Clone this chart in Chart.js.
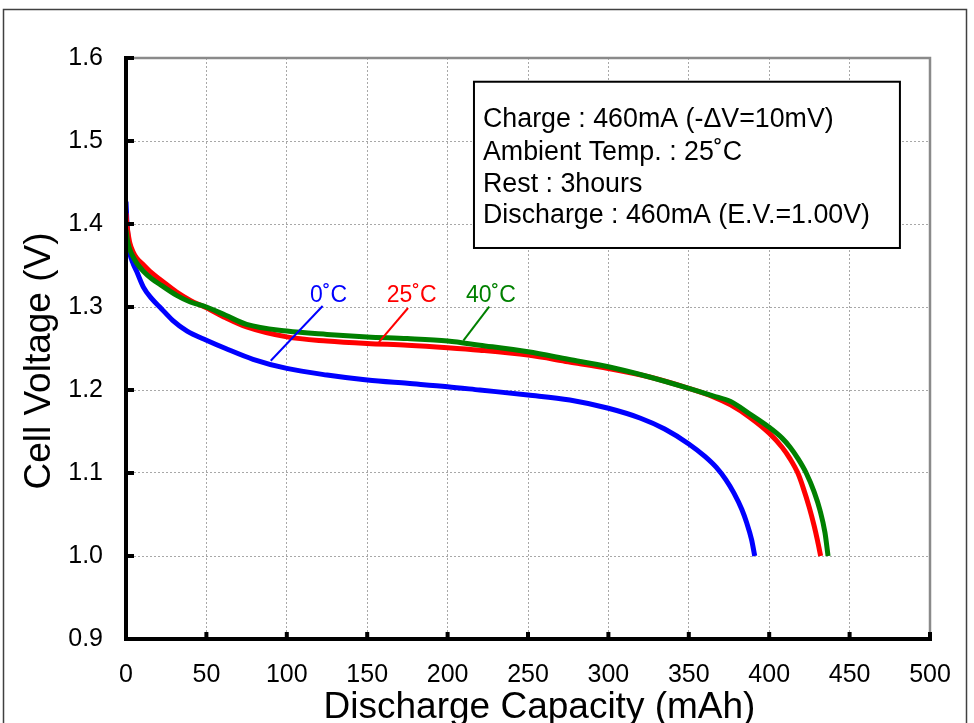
<!DOCTYPE html>
<html>
<head>
<meta charset="utf-8">
<script src="https://cdn.jsdelivr.net/npm/chart.js@4.4.1/dist/chart.umd.min.js"></script>
<style>
  html, body { margin: 0; padding: 0; background: #fff; }
  canvas { display: block; }
</style>
</head>
<body>
<canvas id="dischargeChart" width="974" height="723"></canvas>
<script>
// discharge capacity (mAh) and cell voltage (V)
const cap0 = [0, 0.5, 1.2, 2.4, 4.5, 6.6, 10.8, 16, 22, 29, 38, 50, 62, 79, 100, 125, 150, 175, 200, 220, 250, 276, 300, 320, 335, 350, 360, 367, 373, 378, 383, 386, 389, 391];
const volt0 = [1.427, 1.405, 1.385, 1.365, 1.352, 1.343, 1.324, 1.310, 1.298, 1.284, 1.271, 1.260, 1.250, 1.237, 1.226, 1.218, 1.212, 1.208, 1.204, 1.200, 1.194, 1.188, 1.178, 1.166, 1.153, 1.135, 1.120, 1.107, 1.092, 1.076, 1.056, 1.040, 1.020, 1.000];

const cap25 = [0, 0.5, 1.2, 2.4, 4.5, 6.6, 10.8, 16, 22, 31.5, 40, 50, 62, 75, 100, 125, 150, 175, 200, 220, 250, 275, 300, 325, 350, 365, 376, 388, 400, 408, 413, 418, 421, 425, 428, 430, 432];
const volt25 = [1.413, 1.400, 1.390, 1.377, 1.366, 1.359, 1.351, 1.341, 1.332, 1.318, 1.308, 1.299, 1.287, 1.276, 1.264, 1.259, 1.256, 1.254, 1.251, 1.248, 1.242, 1.234, 1.226, 1.216, 1.202, 1.192, 1.182, 1.167, 1.148, 1.131, 1.117, 1.099, 1.083, 1.058, 1.036, 1.019, 1.000];

const cap40 = [0, 0.5, 1.2, 2.4, 4.5, 6.6, 10.8, 16, 22, 31.5, 40, 50, 62, 75, 100, 125, 150, 175, 200, 220, 250, 275, 300, 325, 350, 365, 376, 388, 400, 408, 413, 418, 423, 428, 431.6, 434.7, 436.6];
const volt40 = [1.393, 1.385, 1.377, 1.369, 1.360, 1.353, 1.343, 1.334, 1.326, 1.314, 1.306, 1.300, 1.290, 1.279, 1.271, 1.267, 1.264, 1.262, 1.259, 1.254, 1.246, 1.237, 1.228, 1.216, 1.202, 1.193, 1.186, 1.171, 1.155, 1.142, 1.131, 1.117, 1.100, 1.077, 1.055, 1.028, 1.000];

const seriesNames = ['0˚C', '25˚C', '40˚C'];
const xTickValues = [0, 50, 100, 150, 200, 250, 300, 350, 400, 450, 500];
const yTickValues = [0.9, 1.0, 1.1, 1.2, 1.3, 1.4, 1.5, 1.6];
const conditionLines = [
  'Charge : 460mA (-ΔV=10mV)',
  'Ambient Temp. : 25˚C',
  'Rest : 3hours',
  'Discharge : 460mA (E.V.=1.00V)'
];

const FONT = '"Liberation Sans", Arial, sans-serif';
const colors = ['#0000ff', '#ff0000', '#008000'];

function points(xs, ys) {
  return xs.map((v, i) => ({ x: v, y: ys[i] }));
}

// label placement in data units: text anchor, then leader line start/end
const curveLabels = [
  { text: [114.4, 1.3064], from: [122.3, 1.3012], to: [90.0, 1.2353] },
  { text: [162.1, 1.3064], from: [175.4, 1.2988], to: [157.3, 1.2578] },
  { text: [211.4, 1.3064], from: [225.9, 1.3004], to: [209.8, 1.2594] }
];

const overlay = {
  id: 'overlay',
  afterDraw(chart) {
    const { ctx, chartArea: a, scales: { x, y } } = chart;
    const px = v => x.getPixelForValue(v);
    const py = v => y.getPixelForValue(v);
    ctx.save();

    // outer frame
    ctx.strokeStyle = '#404040';
    ctx.lineWidth = 1.5;
    ctx.strokeRect(3.5, 9.5, 963, 800);

    // top / right plot edges
    ctx.strokeStyle = '#8a8a8a';
    ctx.lineWidth = 2.5;
    ctx.beginPath();
    ctx.moveTo(a.left, a.top);
    ctx.lineTo(a.right, a.top);
    ctx.lineTo(a.right, a.bottom);
    ctx.stroke();

    // left / bottom axes
    ctx.strokeStyle = '#000';
    ctx.lineWidth = 4;
    ctx.beginPath();
    ctx.moveTo(a.left, a.top - 2);
    ctx.lineTo(a.left, a.bottom);
    ctx.lineTo(a.right + 2, a.bottom);
    ctx.stroke();

    // inward tick marks
    ctx.fillStyle = '#000';
    xTickValues.forEach(v => ctx.fillRect(px(v) - 2, a.bottom - 7, 4, 7));
    yTickValues.forEach(v => ctx.fillRect(a.left, py(v) - 2, 8, 4));

    // conditions box
    const bx = px(216.4), by = py(1.5714);
    const bw = px(481.3) - bx, bh = py(1.3711) - by;
    ctx.fillStyle = '#fff';
    ctx.fillRect(bx, by, bw, bh);
    ctx.strokeStyle = '#000';
    ctx.lineWidth = 2;
    ctx.strokeRect(bx, by, bw, bh);
    ctx.fillStyle = '#000';
    ctx.font = '26.8px ' + FONT;
    ctx.textAlign = 'left';
    ctx.textBaseline = 'alphabetic';
    const baselines = [1.5172, 1.4771, 1.4389, 1.4012];
    conditionLines.forEach((t, i) => ctx.fillText(t, px(222), py(baselines[i])));

    // curve labels with leader lines
    ctx.font = '23px ' + FONT;
    ctx.lineWidth = 2;
    curveLabels.forEach((l, i) => {
      ctx.fillStyle = colors[i];
      ctx.strokeStyle = colors[i];
      ctx.fillText(seriesNames[i], px(l.text[0]), py(l.text[1]));
      ctx.beginPath();
      ctx.moveTo(px(l.from[0]), py(l.from[1]));
      ctx.lineTo(px(l.to[0]), py(l.to[1]));
      ctx.stroke();
    });

    // axis titles
    ctx.fillStyle = '#000';
    ctx.font = '37px ' + FONT;
    ctx.textAlign = 'center';
    ctx.fillText('Discharge Capacity (mAh)', 539.5, 718);
    ctx.translate(50, 361);
    ctx.rotate(-Math.PI / 2);
    ctx.fillText('Cell Voltage (V)', 0, 0);

    ctx.restore();
  }
};

const chart = new Chart(document.getElementById('dischargeChart'), {
  type: 'scatter',
  data: {
    datasets: [
      { label: seriesNames[0], data: points(cap0, volt0), borderColor: colors[0], order: 2 },
      { label: seriesNames[1], data: points(cap25, volt25), borderColor: colors[1], order: 1 },
      { label: seriesNames[2], data: points(cap40, volt40), borderColor: colors[2], order: 0 }
    ]
  },
  options: {
    responsive: false,
    animation: false,
    devicePixelRatio: 1,
    layout: { padding: { left: 0, top: 58, right: 44, bottom: 0 } },
    datasets: {
      scatter: {
        showLine: true,
        pointRadius: 0,
        borderWidth: 5,
        cubicInterpolationMode: 'monotone'
      }
    },
    plugins: {
      legend: { display: false },
      tooltip: { enabled: false }
    },
    scales: {
      x: {
        type: 'linear',
        min: 0,
        max: 500,
        afterBuildTicks: s => { s.ticks = xTickValues.map(v => ({ value: v })); },
        afterFit: s => { s.height = 84; },
        grid: { color: '#a8a8a8', lineWidth: 1, drawTicks: false },
        border: { display: false, dash: [2, 2] },
        ticks: { color: '#000', padding: 21, font: { family: FONT, size: 25 } }
      },
      y: {
        type: 'linear',
        min: 0.9,
        max: 1.6,
        afterBuildTicks: s => { s.ticks = yTickValues.map(v => ({ value: v })); },
        afterFit: s => { s.width = 126; },
        grid: { color: '#a8a8a8', lineWidth: 1, drawTicks: false },
        border: { display: false, dash: [2, 2] },
        ticks: {
          color: '#000',
          padding: 23,
          font: { family: FONT, size: 25 },
          callback: v => v.toFixed(1)
        }
      }
    }
  },
  plugins: [overlay]
});

window.chart = chart;
</script>
</body>
</html>
